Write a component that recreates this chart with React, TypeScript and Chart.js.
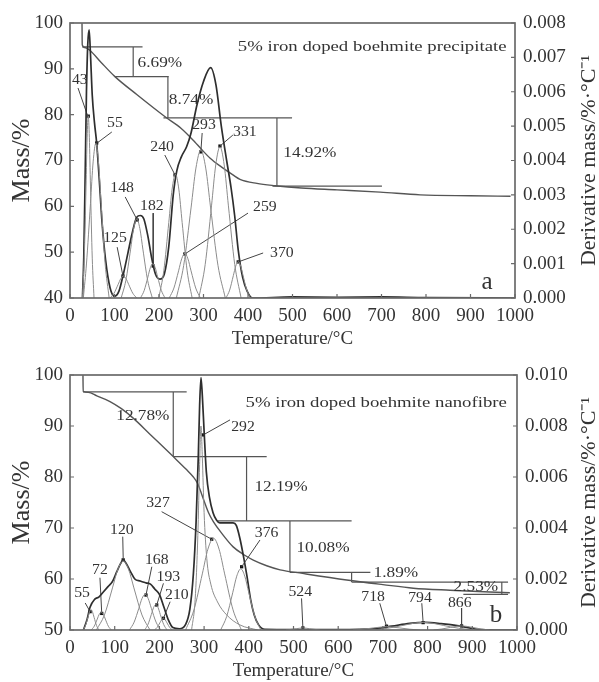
import React, { useEffect, useRef } from "react";
import { Chart, registerables } from "chart.js";
Chart.register(...registerables);

const SERIF = '"Liberation Serif", "Times New Roman", serif';

type P = [number, number];
type Seg = [number, number, number, number];
type Lbl = [string, number, number];

// ---------- shared ticks ----------
const tempTicks = [0, 100, 200, 300, 400, 500, 600, 700, 800, 900, 1000];

// ---------- panel a : precipitate ----------
const massTicksA = [40, 50, 60, 70, 80, 90, 100];
const dtgTicksA = [0, 0.001, 0.002, 0.003, 0.004, 0.005, 0.006, 0.007, 0.008];

const tgA: P[] = [[27, 100], [27.5, 95.2], [35, 94.6], [45, 94.0], [70, 91.4], [101, 88.3], [150, 84.4], [213, 79.6], [250, 77.0], [281, 74.0], [294, 72.6], [315, 70.5], [340, 68.6], [367, 66.8], [382, 65.9], [420, 65.0], [461, 64.5], [520, 64.0], [600, 63.6], [697, 63.1], [787, 62.5], [900, 62.3], [990, 62.2]];

const dtgTotalA: P[] = [[28, 0], [31, 0.0012], [34, 0.0035], [37, 0.006], [40, 0.0074], [43, 0.0078], [46, 0.0071], [50, 0.0059], [55, 0.0051], [60, 0.0045], [66, 0.0034], [72, 0.0022], [80, 0.0011], [90, 0.0003], [100, 0.00005], [110, 0.0002], [120, 0.0007], [130, 0.0013], [140, 0.0019], [150, 0.00235], [158, 0.0024], [166, 0.0023], [175, 0.0018], [183, 0.0012], [192, 0.0007], [202, 0.00055], [212, 0.0007], [222, 0.0015], [232, 0.003], [240, 0.0037], [250, 0.0041], [262, 0.0044], [272, 0.0048], [285, 0.0056], [300, 0.0063], [316, 0.0067], [328, 0.0062], [340, 0.005], [352, 0.004], [362, 0.0032], [370, 0.0024], [378, 0.0014], [388, 0.0006], [398, 0.0002], [410, 0], [500, 0.00003], [600, 0.00002], [700, 0.00003], [800, 0.00001], [1000, 0]];

const peak43A: P[] = [[28, 0], [32, 0.00116], [36, 0.00323], [38.5, 0.00466], [41, 0.0053], [43.5, 0.00466], [46, 0.00323], [50, 0.00116], [54, 0]];
const peak55A: P[] = [[30, 0], [37, 0.00099], [46, 0.00275], [52, 0.00396], [58, 0.0045], [64, 0.00396], [70, 0.00275], [79, 0.00099], [88, 0]];
const peak125A: P[] = [[90, 0], [99, 0.00014], [108, 0.00039], [114, 0.00056], [120, 0.00064], [126, 0.00056], [132, 0.00039], [141, 0.00014], [150, 0]];
const peak148A: P[] = [[115, 0], [125.5, 0.00051], [136, 0.0014], [143, 0.00202], [150, 0.0023], [157, 0.00202], [164, 0.0014], [174.5, 0.00051], [185, 0]];
const peak182A: P[] = [[158.5, 0], [166.75, 0.00022], [175, 0.00061], [180.5, 0.00088], [186, 0.001], [191.5, 0.00088], [197, 0.00061], [205.25, 0.00022], [213.5, 0]];
const peak240A: P[] = [[199.5, 0], [210.75, 0.00079], [222, 0.0022], [229.5, 0.00317], [237, 0.0036], [244.5, 0.00317], [252, 0.0022], [263.25, 0.00079], [274.5, 0]];
const peak259A: P[] = [[223, 0], [233.5, 0.00029], [244, 0.00079], [251, 0.00114], [258, 0.0013], [265, 0.00114], [272, 0.00079], [282.5, 0.00029], [293, 0]];
const peak293A: P[] = [[239, 0], [255.5, 0.00095], [272, 0.00262], [283, 0.00378], [294, 0.0043], [305, 0.00378], [316, 0.00262], [332.5, 0.00095], [349, 0]];
const peak331A: P[] = [[289.5, 0], [303.75, 0.00097], [318, 0.00268], [327.5, 0.00387], [337, 0.0044], [346.5, 0.00387], [356, 0.00268], [370.25, 0.00097], [384.5, 0]];
const peak370A: P[] = [[350.5, 0], [358.75, 0.00023], [367, 0.00065], [372.5, 0.00093], [378, 0.00106], [383.5, 0.00093], [389, 0.00065], [397.25, 0.00023], [405.5, 0]];

const bracketsA: Seg[] = [[27, 94.8, 163, 94.8], [142, 94.8, 142, 88.3], [101, 88.3, 222, 88.3], [220, 88.3, 220, 79.3], [210, 79.3, 499, 79.3], [465, 79.3, 465, 64.4], [455, 64.4, 701, 64.4]];
const leadersA: Seg[] = [[18, 0.00611, 40, 0.00529], [94, 0.00483, 61, 0.00451], [124, 0.00294, 151, 0.00227], [187, 0.00247, 187, 0.00093], [106, 0.00148, 119, 0.00064], [213, 0.00416, 236, 0.00358], [297, 0.0048, 294, 0.00425], [366, 0.00474, 337, 0.00442], [400, 0.00247, 258, 0.00128], [434, 0.00131, 378, 0.00105]];
const markersA: P[] = [[41, 0.00529], [60, 0.00451], [151, 0.00227], [187, 0.00093], [119, 0.00064], [236, 0.00358], [294, 0.00425], [337, 0.00442], [258, 0.00128], [378, 0.00105]];
const peakLabelsA: Lbl[] = [["43", 22, 0.00634], ["55", 101, 0.00509], ["148", 117, 0.0032], ["182", 184, 0.00268], ["125", 101, 0.00175], ["240", 207, 0.00439], ["293", 301, 0.00503], ["331", 393, 0.00483], ["259", 438, 0.00265], ["370", 476, 0.00131]];
const pctLabelsA: Lbl[] = [["6.69%", 202, 91.3], ["8.74%", 272, 83.2], ["14.92%", 539, 71.6]];
const titleA: Lbl = ["5% iron doped boehmite precipitate", 679, 94.8];
const letterA: Lbl = ["a", 937, 43.5];

// ---------- panel b : nanofibre ----------
const massTicksB = [50, 60, 70, 80, 90, 100];
const dtgTicksB = [0, 0.002, 0.004, 0.006, 0.008, 0.01];

const tgB: P[] = [[29, 100], [29.5, 96.8], [41, 96.6], [60, 95.9], [89.5, 94.8], [115, 93.4], [142, 91.5], [180, 88.3], [231, 84], [260, 81.5], [276, 80.0], [285, 78.8], [291, 77.5], [300, 75.3], [310, 73], [321, 71.2], [340, 68.9], [365, 66.3], [390, 64.7], [410, 63.7], [440, 62.6], [470, 61.8], [520, 61.1], [619, 59.8], [700, 58.9], [768, 58.2], [850, 57.8], [984, 57.3]];

const dtgTotalB: P[] = [[30, 0], [38, 0.0004], [45, 0.0009], [55, 0.0012], [65, 0.0013], [75, 0.0015], [85, 0.0017], [95, 0.0019], [105, 0.0023], [113, 0.0026], [119, 0.00275], [126, 0.0026], [135, 0.0023], [145, 0.002], [157, 0.00192], [170, 0.00185], [180, 0.0018], [190, 0.0016], [200, 0.0014], [210, 0.0009], [220, 0.0004], [230, 0.0001], [245, 0.00005], [258, 0.0002], [268, 0.0008], [276, 0.0022], [282, 0.0042], [287, 0.0068], [290, 0.0088], [293, 0.0099], [296, 0.0092], [300, 0.0078], [305, 0.0062], [312, 0.0052], [320, 0.0046], [328, 0.0043], [335, 0.0042], [350, 0.0042], [365, 0.0042], [372, 0.0041], [380, 0.0036], [388, 0.0029], [396, 0.0021], [404, 0.0012], [412, 0.0006], [422, 0.0002], [436, 0.00003], [500, 0.00002], [600, 0.00002], [680, 0.00005], [720, 0.00015], [760, 0.00026], [795, 0.0003], [830, 0.00025], [870, 0.00016], [900, 0.00006], [930, 0.00001], [1000, 0]];

const peak55B: P[] = [[29.5, 0], [34.75, 0.00018], [40, 0.00049], [43.5, 0.0007], [47, 0.0008], [50.5, 0.0007], [54, 0.00049], [59.25, 0.00018], [64.5, 0]];
const peak72B: P[] = [[47.5, 0], [54.25, 0.00015], [61, 0.00043], [65.5, 0.00062], [70, 0.0007], [74.5, 0.00062], [79, 0.00043], [85.75, 0.00015], [92.5, 0]];
const peak120B: P[] = [[59, 0], [77, 0.00059], [95, 0.00165], [107, 0.00238], [119, 0.0027], [131, 0.00238], [143, 0.00165], [161, 0.00059], [179, 0]];
const peak168B: P[] = [[133, 0], [143.5, 0.00031], [154, 0.00085], [161, 0.00123], [168, 0.0014], [175, 0.00123], [182, 0.00085], [192.5, 0.00031], [203, 0]];
const peak193B: P[] = [[167, 0], [174.5, 0.00022], [182, 0.00061], [187, 0.00088], [192, 0.001], [197, 0.00088], [202, 0.00061], [209.5, 0.00022], [217, 0]];
const peak210B: P[] = [[189, 0], [195, 0.0001], [201, 0.00028], [205, 0.0004], [209, 0.00046], [213, 0.0004], [217, 0.00028], [223, 0.0001], [229, 0]];
const peak292B: P[] = [[272, 0], [280, 0.0012], [286, 0.0037], [290, 0.0065], [293, 0.008], [296, 0.0068], [300, 0.0046], [306, 0.0028], [315, 0.0018], [330, 0.0011], [350, 0.0006], [380, 0.0002], [420, 0]];
const peak327B: P[] = [[258.5, 0], [277.25, 0.00079], [296, 0.0022], [308.5, 0.00317], [321, 0.0036], [333.5, 0.00317], [346, 0.0022], [364.75, 0.00079], [383.5, 0]];
const peak376B: P[] = [[337, 0], [350.5, 0.00053], [364, 0.00146], [373, 0.00211], [382, 0.0024], [391, 0.00211], [400, 0.00146], [413.5, 0.00053], [427, 0]];
const peak524B: P[] = [[483, 0], [506, 0.00005], [521, 0.00008], [536, 0.00005], [559, 0]];
const peak718B: P[] = [[633, 0], [655.5, 0.00003], [678, 0.00008], [693, 0.00011], [708, 0.00013], [723, 0.00011], [738, 0.00008], [760.5, 0.00003], [783, 0]];
const peak794B: P[] = [[677.5, 0], [711, 0.00007], [745, 0.00018], [767.5, 0.00026], [790, 0.0003], [812.5, 0.00026], [835, 0.00018], [869, 0.00007], [902.5, 0]];
const peak866B: P[] = [[813.5, 0], [832, 0.00004], [851, 0.0001], [863.5, 0.00014], [876, 0.00016], [888.5, 0.00014], [901, 0.0001], [919.75, 0.00004], [938.5, 0]];

const bracketsB: Seg[] = [[29, 96.7, 261, 96.7], [231, 96.7, 231, 84], [231, 84, 440, 84], [395, 84, 395, 71.4], [330, 71.4, 630, 71.4], [492, 71.4, 492, 61.3], [492, 61.3, 672, 61.3], [630, 61.3, 630, 59.4], [630, 59.4, 980, 59.4], [966, 59.4, 966, 57.0], [880, 57.0, 980, 57.0]];
const leadersB: Seg[] = [[34, 0.00106, 45, 0.00072], [67, 0.00205, 71, 0.00065], [118, 0.00366, 119, 0.00282], [183, 0.00248, 170, 0.00137], [209, 0.00183, 194, 0.00098], [224, 0.00111, 209, 0.00046], [358, 0.00824, 298, 0.00765], [205, 0.00464, 317, 0.00356], [425, 0.00353, 384, 0.00248], [518, 0.00124, 521, 0.00008], [693, 0.00105, 708, 0.00015], [787, 0.00105, 790, 0.00029], [876, 0.00086, 876, 0.0002]];
const markersB: P[] = [[45, 0.00072], [71, 0.00065], [119, 0.00275], [170, 0.00137], [194, 0.00098], [209, 0.00046], [298, 0.00765], [317, 0.00356], [384, 0.00248], [521, 0.00008], [708, 0.00015], [790, 0.00029], [876, 0.00016]];
const peakLabelsB: Lbl[] = [["55", 27, 0.00145], ["72", 67, 0.00235], ["120", 116, 0.00392], ["168", 194, 0.00274], ["193", 220, 0.00209], ["210", 239, 0.00137], ["292", 387, 0.00797], ["327", 197, 0.00498], ["376", 440, 0.00382], ["524", 515, 0.0015], ["718", 678, 0.0013], ["794", 783, 0.00125], ["866", 872, 0.00106]];
const pctLabelsB: Lbl[] = [["12.78%", 163, 92.0], ["12.19%", 472, 78.1], ["10.08%", 566, 66.1], ["1.89%", 729, 61.2], ["2.53%", 908, 58.4]];
const titleB: Lbl = ["5% iron doped boehmite nanofibre", 685, 94.5];
const letterB: Lbl = ["b", 953, 52.9];

// ---------- chart building ----------
type Panel = {
  top: number; xh: number; rightW: number;
  massMin: number; massMax: number; massTicks: number[];
  dtgMax: number; dtgTicks: number[];
  tg: P[]; total: P[]; comps: P[][];
  brackets: Seg[]; leaders: Seg[]; markers: P[];
  peakLabels: Lbl[]; pctLabels: Lbl[]; title: Lbl; letter: Lbl;
};

const panelA: Panel = {
  top: 23, xh: 52, rightW: 84, massMin: 40, massMax: 100, massTicks: massTicksA,
  dtgMax: 0.008, dtgTicks: dtgTicksA, tg: tgA, total: dtgTotalA,
  comps: [peak43A, peak55A, peak125A, peak148A, peak182A, peak240A, peak259A, peak293A, peak331A, peak370A],
  brackets: bracketsA, leaders: leadersA, markers: markersA,
  peakLabels: peakLabelsA, pctLabels: pctLabelsA, title: titleA, letter: letterA,
};
const panelB: Panel = {
  top: 35, xh: 52, rightW: 82, massMin: 50, massMax: 100, massTicks: massTicksB,
  dtgMax: 0.01, dtgTicks: dtgTicksB, tg: tgB, total: dtgTotalB,
  comps: [peak55B, peak72B, peak120B, peak168B, peak193B, peak210B, peak292B, peak327B, peak376B, peak524B, peak718B, peak794B, peak866B],
  brackets: bracketsB, leaders: leadersB, markers: markersB,
  peakLabels: peakLabelsB, pctLabels: pctLabelsB, title: titleB, letter: letterB,
};

const toXY = (pts: P[]) => pts.map(([x, y]) => ({ x, y }));
const segData = (segs: Seg[]) => {
  const out: { x: number; y: number | null }[] = [];
  segs.forEach(([x1, y1, x2, y2]) => {
    out.push({ x: x1, y: y1 }, { x: x2, y: y2 }, { x: x2, y: null });
  });
  return out;
};

function decor(panel: Panel, name: string) {
  return {
    id: "decor" + name,
    afterDraw(chart: any) {
      const { ctx, chartArea: a, scales } = chart;
      const sx = scales.x, sy = scales.y, sy1 = scales.y1;
      ctx.save();
      ctx.strokeStyle = "#6a6a6a";
      ctx.lineWidth = 1.7;
      ctx.strokeRect(a.left, a.top, a.right - a.left, a.bottom - a.top);
      ctx.lineWidth = 1.2;
      ctx.beginPath();
      tempTicks.forEach((v) => {
        const px = sx.getPixelForValue(v);
        ctx.moveTo(px, a.bottom); ctx.lineTo(px, a.bottom - 4);
      });
      panel.massTicks.forEach((v) => {
        const py = sy.getPixelForValue(v);
        ctx.moveTo(a.left, py); ctx.lineTo(a.left + 4, py);
      });
      panel.dtgTicks.forEach((v) => {
        const py = sy1.getPixelForValue(v);
        ctx.moveTo(a.right, py); ctx.lineTo(a.right - 4, py);
      });
      ctx.stroke();

      ctx.fillStyle = "#333";
      ctx.textAlign = "center";
      ctx.textBaseline = "middle";
      const txt = (t: string, x: number, y: number, size: number, k: number) => {
        ctx.save();
        ctx.translate(x, y);
        ctx.scale(k, 1);
        ctx.font = `${size}px ${SERIF}`;
        ctx.fillText(t, 0, 0);
        ctx.restore();
      };
      panel.peakLabels.forEach(([t, x, y]) => txt(t, sx.getPixelForValue(x), sy1.getPixelForValue(y), 15, 1.05));
      panel.pctLabels.forEach(([t, x, y]) => txt(t, sx.getPixelForValue(x), sy.getPixelForValue(y), 15, 1.15));
      txt(panel.title[0], sx.getPixelForValue(panel.title[1]), sy.getPixelForValue(panel.title[2]), 15, 1.25);
      txt(panel.letter[0], sx.getPixelForValue(panel.letter[1]), sy.getPixelForValue(panel.letter[2]), 25, 1);

      // axis titles
      ctx.font = `19px ${SERIF}`;
      ctx.fillText("Temperature/°C", (a.left + a.right) / 2, a.bottom + 41);
      const mid = (a.top + a.bottom) / 2;
      ctx.save();
      ctx.translate(22, mid);
      ctx.rotate(-Math.PI / 2);
      ctx.font = `26px ${SERIF}`;
      ctx.fillText("Mass/%", 0, 0);
      ctx.restore();
      ctx.save();
      ctx.translate(589, mid);
      ctx.rotate(-Math.PI / 2);
      ctx.font = `22px ${SERIF}`;
      ctx.fillText("Derivative mass/%·°C⁻¹", 0, 0);
      ctx.restore();
      ctx.restore();
    },
  };
}

function makeChart(canvas: HTMLCanvasElement, panel: Panel, name: string) {
  const datasets: any[] = [];
  panel.comps.forEach((c) =>
    datasets.push({ data: toXY(c), yAxisID: "y1", borderColor: "#8c8c8c", borderWidth: 1, pointRadius: 0, cubicInterpolationMode: "monotone", fill: false })
  );
  datasets.push({ data: toXY(panel.total), yAxisID: "y1", borderColor: "#2e2e2e", borderWidth: 1.7, pointRadius: 0, cubicInterpolationMode: "monotone", fill: false });
  datasets.push({ data: toXY(panel.tg), yAxisID: "y", borderColor: "#555", borderWidth: 1.4, pointRadius: 0, cubicInterpolationMode: "monotone", fill: false });
  datasets.push({ data: segData(panel.brackets), yAxisID: "y", borderColor: "#555", borderWidth: 1.2, pointRadius: 0, tension: 0, spanGaps: false, fill: false });
  datasets.push({ data: segData(panel.leaders), yAxisID: "y1", borderColor: "#444", borderWidth: 1, pointRadius: 0, tension: 0, spanGaps: false, fill: false });
  datasets.push({ data: toXY(panel.markers), yAxisID: "y1", showLine: false, pointRadius: 2.3, pointStyle: "rect", backgroundColor: "#111", borderColor: "#111", borderWidth: 0 });

  const tickFont = { family: SERIF, size: 19 };
  return new Chart(canvas, {
    type: "line",
    data: { datasets },
    options: {
      animation: false,
      responsive: false,
      devicePixelRatio: 1,
      events: [],
      layout: { padding: { top: panel.top, left: 0, right: 0, bottom: 0 } },
      plugins: { legend: { display: false }, tooltip: { enabled: false } },
      scales: {
        x: {
          type: "linear", min: 0, max: 1000,
          afterBuildTicks: (s: any) => { s.ticks = tempTicks.map((v) => ({ value: v })); },
          afterFit: (s: any) => { s.height = panel.xh; },
          grid: { display: false, drawTicks: false },
          border: { display: false },
          ticks: { padding: 7, font: tickFont, color: "#333", maxRotation: 0, autoSkip: false, callback: (v: any) => String(v) },
        },
        y: {
          type: "linear", position: "left", min: panel.massMin, max: panel.massMax,
          afterBuildTicks: (s: any) => { s.ticks = panel.massTicks.map((v) => ({ value: v })); },
          afterFit: (s: any) => { s.width = 70; },
          grid: { display: false, drawTicks: false },
          border: { display: false },
          ticks: { padding: 7, font: tickFont, color: "#333", autoSkip: false, callback: (v: any) => String(v) },
        },
        y1: {
          type: "linear", position: "right", min: 0, max: panel.dtgMax,
          afterBuildTicks: (s: any) => { s.ticks = panel.dtgTicks.map((v) => ({ value: v })); },
          afterFit: (s: any) => { s.width = panel.rightW; },
          grid: { display: false, drawTicks: false },
          border: { display: false },
          ticks: { padding: 8, font: tickFont, color: "#333", autoSkip: false, callback: (v: any) => Number(v).toFixed(3) },
        },
      },
    } as any,
    plugins: [decor(panel, name)],
  });
}

export default function App() {
  const refA = useRef<HTMLCanvasElement>(null);
  const refB = useRef<HTMLCanvasElement>(null);
  useEffect(() => {
    const ca = makeChart(refA.current!, panelA, "A");
    const cb = makeChart(refB.current!, panelB, "B");
    return () => { ca.destroy(); cb.destroy(); };
  }, []);
  return (
    <div style={{ position: "absolute", left: 0, top: 0, width: 599, height: 682, background: "#fff" }}>
      <canvas ref={refA} width={599} height={350} style={{ position: "absolute", left: 0, top: 0, width: 599, height: 350 }} />
      <canvas ref={refB} width={599} height={342} style={{ position: "absolute", left: 0, top: 340, width: 599, height: 342 }} />
    </div>
  );
}
